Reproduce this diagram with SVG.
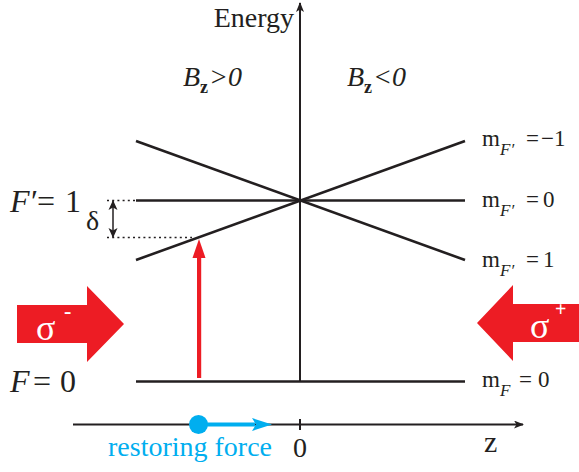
<svg xmlns="http://www.w3.org/2000/svg" width="579" height="472" viewBox="0 0 579 472">
<defs>
  <marker id="ah" markerWidth="10" markerHeight="8" refX="9" refY="4" orient="auto" markerUnits="userSpaceOnUse">
    <path d="M0,0 L10,4 L0,8 L2.5,4 Z" fill="#231F20"/>
  </marker>
  <marker id="dh" markerWidth="10" markerHeight="10" refX="9" refY="5" orient="auto-start-reverse" markerUnits="userSpaceOnUse">
    <path d="M0,0.5 L10,5 L0,9.5 L2.5,5 Z" fill="#231F20"/>
  </marker>
</defs>
<rect width="579" height="472" fill="#FFFFFF"/>

<g id="connectors" fill="none" stroke="#231F20" stroke-width="2">
  <line x1="300" y1="382" x2="300" y2="3" marker-end="url(#ah)"/>
  <line x1="73" y1="424.5" x2="523" y2="424.5" marker-end="url(#ah)"/>
  <line x1="300" y1="419" x2="300" y2="430"/>
  <line stroke-width="1.5" x1="113" y1="201" x2="113" y2="237" marker-start="url(#dh)" marker-end="url(#dh)"/>
  <line stroke-width="1.3" stroke-dasharray="2 3.2" x1="107" y1="200.5" x2="136" y2="200.5"/>
  <line stroke-width="1.3" stroke-dasharray="2 3.2" x1="107" y1="237.5" x2="192" y2="237.5"/>
  <rect stroke="none" fill="#ED1C24" x="197" y="256" width="4.2" height="122"/>
  <polygon stroke="none" fill="#ED1C24" points="199,239 205.5,258 192.5,258"/>
  <rect stroke="none" fill="#00AEEF" x="199" y="422.5" width="56" height="4"/>
  <polygon stroke="none" fill="#00AEEF" points="272,424.5 252,418 256,424.5 252,431"/>
  <circle stroke="none" fill="#00AEEF" cx="198.5" cy="424.5" r="9.5"/>
</g>

<g id="level-Fp-mminus1"><line stroke="#231F20" stroke-width="2.6" x1="136" y1="260" x2="465" y2="141"/></g>
<g id="level-Fp-m0"><line stroke="#231F20" stroke-width="2.6" x1="136" y1="200.5" x2="465" y2="200.5"/></g>
<g id="level-Fp-m1"><line stroke="#231F20" stroke-width="2.6" x1="136" y1="141" x2="465" y2="260"/></g>
<g id="level-F0"><line stroke="#231F20" stroke-width="2.6" x1="136" y1="381.5" x2="465" y2="381.5"/></g>

<g id="label-energy"><text x="294" y="27" font-family="Liberation Serif" font-size="28" fill="#231F20" text-anchor="end">Energy</text></g>
<g id="label-bz-pos">
  <text x="183" y="86" font-family="Liberation Serif" font-size="28" fill="#231F20" font-style="italic">B</text>
  <text x="200" y="93" font-family="Liberation Serif" font-size="18" fill="#231F20" font-weight="bold">z</text>
  <text x="209" y="86" font-family="Liberation Serif" font-size="28" fill="#231F20" font-style="italic">&gt;0</text>
</g>
<g id="label-bz-neg">
  <text x="347" y="86" font-family="Liberation Serif" font-size="28" fill="#231F20" font-style="italic">B</text>
  <text x="364" y="93" font-family="Liberation Serif" font-size="18" fill="#231F20" font-weight="bold">z</text>
  <text x="373" y="86" font-family="Liberation Serif" font-size="28" fill="#231F20" font-style="italic">&lt;0</text>
</g>

<g id="label-Fp1">
  <text x="10" y="212" font-family="Liberation Serif" font-size="32" fill="#231F20" font-style="italic">F</text>
  <text x="31" y="212" font-family="Liberation Serif" font-size="32" fill="#231F20">′</text>
  <text x="37" y="212" font-family="Liberation Serif" font-size="32" fill="#231F20">=</text>
  <text x="65" y="212" font-family="Liberation Serif" font-size="32" fill="#231F20">1</text>
</g>
<g id="label-F0">
  <text x="10" y="392" font-family="Liberation Serif" font-size="32" fill="#231F20" font-style="italic">F</text>
  <text x="33" y="392" font-family="Liberation Serif" font-size="32" fill="#231F20">=</text>
  <text x="60" y="392" font-family="Liberation Serif" font-size="32" fill="#231F20">0</text>
</g>
<g id="label-delta"><text x="86" y="230" font-family="Liberation Serif" font-size="28" fill="#231F20">δ</text></g>

<g id="label-m-1">
  <text x="482" y="146" font-family="Liberation Serif" font-size="23" fill="#231F20">m</text>
  <text x="500" y="155" font-family="Liberation Serif" font-size="17" fill="#231F20" font-style="italic">F′</text>
  <text x="526" y="146" font-family="Liberation Serif" font-size="23" fill="#231F20">=</text>
  <text x="541" y="146" font-family="Liberation Serif" font-size="23" fill="#231F20">−1</text>
</g>
<g id="label-m0">
  <text x="482" y="207" font-family="Liberation Serif" font-size="23" fill="#231F20">m</text>
  <text x="500" y="216" font-family="Liberation Serif" font-size="17" fill="#231F20" font-style="italic">F′</text>
  <text x="526" y="207" font-family="Liberation Serif" font-size="23" fill="#231F20">=</text>
  <text x="543" y="207" font-family="Liberation Serif" font-size="23" fill="#231F20">0</text>
</g>
<g id="label-m1">
  <text x="482" y="267" font-family="Liberation Serif" font-size="23" fill="#231F20">m</text>
  <text x="500" y="276" font-family="Liberation Serif" font-size="17" fill="#231F20" font-style="italic">F′</text>
  <text x="526" y="267" font-family="Liberation Serif" font-size="23" fill="#231F20">=</text>
  <text x="543" y="267" font-family="Liberation Serif" font-size="23" fill="#231F20">1</text>
</g>
<g id="label-mF0">
  <text x="482" y="387" font-family="Liberation Serif" font-size="23" fill="#231F20">m</text>
  <text x="500" y="396" font-family="Liberation Serif" font-size="17" fill="#231F20" font-style="italic">F</text>
  <text x="519" y="387" font-family="Liberation Serif" font-size="23" fill="#231F20">=</text>
  <text x="538" y="387" font-family="Liberation Serif" font-size="23" fill="#231F20">0</text>
</g>

<g id="label-restoring"><text x="108" y="456" font-family="Liberation Serif" font-size="28" fill="#00AEEF">restoring force</text></g>
<g id="label-zero"><text x="300" y="457" font-family="Liberation Serif" font-size="28" fill="#231F20" text-anchor="middle">0</text></g>
<g id="label-z"><text x="484" y="452" font-family="Liberation Serif" font-size="30" fill="#231F20">z</text></g>

<g id="beam-sigma-minus">
  <polygon fill="#ED1C24" points="17,305 87,305 87,286 124,324 87,362 87,343 17,343"/>
  <text x="36" y="340" font-size="36" font-family="Liberation Serif" fill="#FFFFFF">σ</text>
  <text x="64" y="318" font-size="22" font-weight="bold" font-family="Liberation Serif" fill="#FFFFFF">-</text>
</g>
<g id="beam-sigma-plus">
  <polygon fill="#ED1C24" points="579,304 513,304 513,285 477,323 513,361 513,342 579,342"/>
  <text x="530" y="338" font-size="36" font-family="Liberation Serif" fill="#FFFFFF">σ</text>
  <text x="555" y="316" font-size="20" font-weight="bold" font-family="Liberation Serif" fill="#FFFFFF">+</text>
</g>
</svg>
